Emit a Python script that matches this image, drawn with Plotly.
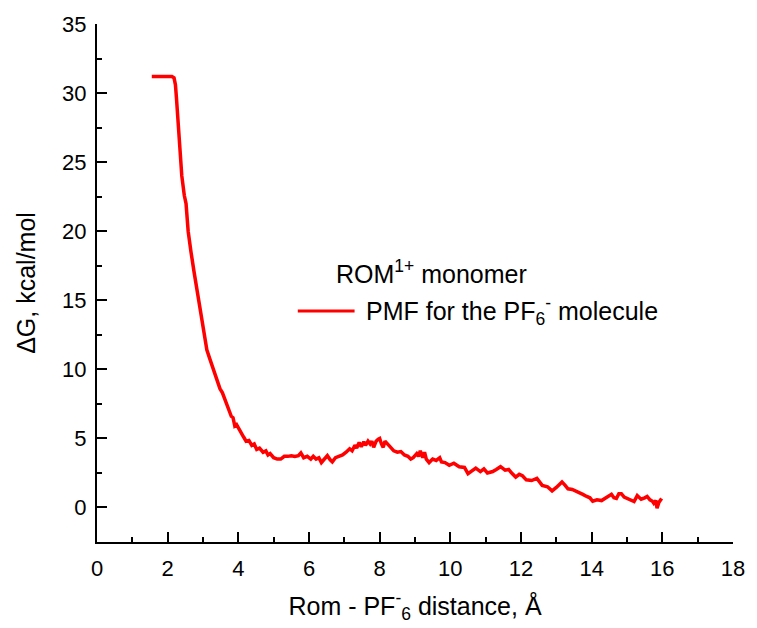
import plotly.graph_objects as go

distance = [1.55, 1.8, 2.0, 2.12, 2.18, 2.22, 2.25, 2.29, 2.33, 2.4, 2.47, 2.52, 2.58, 2.62, 2.66,
            2.75, 2.88, 2.95, 3.05, 3.11, 3.2, 3.3, 3.4, 3.48, 3.55, 3.65, 3.75, 3.8, 3.85, 3.9,
            3.95, 4.05, 4.15, 4.22, 4.3, 4.38, 4.45, 4.52, 4.6, 4.7, 4.78, 4.84, 4.9, 5.0, 5.1,
            5.2, 5.3, 5.4, 5.5, 5.6, 5.7, 5.77, 5.85, 5.95, 6.05, 6.12, 6.2, 6.28, 6.35, 6.4,
            6.47, 6.52, 6.6, 6.66, 6.75, 6.85, 6.95, 7.05, 7.15, 7.22, 7.3, 7.35, 7.42, 7.48,
            7.55, 7.6, 7.67, 7.73, 7.78, 7.83, 7.9, 7.96, 8.0, 8.05, 8.1, 8.15, 8.22, 8.3, 8.4,
            8.5, 8.6, 8.7, 8.8, 8.88, 8.95, 9.05, 9.1, 9.15, 9.22, 9.27, 9.32, 9.4, 9.5, 9.6,
            9.7, 9.75, 9.85, 9.97, 10.1, 10.25, 10.4, 10.5, 10.6, 10.72, 10.85, 10.95, 11.05,
            11.2, 11.3, 11.42, 11.55, 11.65, 11.75, 11.85, 11.95, 12.04, 12.15, 12.3, 12.45,
            12.6, 12.75, 12.88, 13.0, 13.16, 13.25, 13.33, 13.45, 13.6, 13.75, 13.86, 13.95,
            14.03, 14.15, 14.28, 14.42, 14.56, 14.63, 14.7, 14.77, 14.84, 14.92, 15.0, 15.1,
            15.2, 15.29, 15.4, 15.5, 15.57, 15.65, 15.72, 15.76, 15.82, 15.85, 15.9, 15.98]

pmf = [31.2, 31.2, 31.2, 31.2, 31.1, 30.6, 29.6, 28.0, 26.0, 24.0, 22.6, 22.0, 20.0, 19.0, 18.5,
       17.0, 15.0, 14.0, 12.4, 11.4, 10.7, 10.0, 9.2, 8.6, 8.3, 7.6, 7.0, 6.6, 6.5, 5.9,
       6.0, 5.5, 5.1, 4.8, 4.85, 4.5, 4.6, 4.2, 4.3, 4.0, 4.1, 3.8, 3.9, 3.6, 3.5,
       3.5, 3.7, 3.7, 3.75, 3.7, 3.75, 3.95, 3.6, 3.7, 3.5, 3.7, 3.5, 3.6, 3.25, 3.4,
       3.6, 3.75, 3.45, 3.3, 3.6, 3.7, 3.8, 4.0, 4.25, 4.1, 4.5, 4.3, 4.7, 4.4,
       4.75, 4.5, 4.8, 4.6, 4.8, 4.35, 4.8, 4.95, 5.0, 4.6, 4.35, 4.8, 4.6, 4.35, 4.1,
       4.0, 4.05, 3.8, 3.7, 3.5, 3.6, 3.9, 3.7, 4.1, 3.6, 4.0, 3.5, 3.25, 3.5, 3.4,
       3.6, 3.3, 3.25, 3.05, 3.2, 2.95, 2.9, 2.45, 2.6, 2.85, 2.6, 2.8, 2.5,
       2.6, 2.75, 2.95, 2.7, 2.75, 2.45, 2.2, 2.4, 2.3, 2.0, 1.95, 2.1,
       1.6, 1.5, 1.2, 1.45, 1.85, 1.6, 1.35, 1.3, 1.15, 0.95, 0.8, 0.7,
       0.45, 0.55, 0.5, 0.75, 0.95, 0.7, 0.65, 1.0, 1.0, 0.75, 0.65, 0.55,
       0.43, 0.86, 0.6, 0.7, 0.8, 0.55, 0.45, 0.3, 0.5, -0.05, 0.35, 0.65]

x_ticks = [0, 2, 4, 6, 8, 10, 12, 14, 16, 18]
y_ticks = [0, 5, 10, 15, 20, 25, 30, 35]

fig = go.Figure()
fig.add_trace(go.Scatter(x=distance, y=pmf, mode="lines",
                         line=dict(color="#FF0000", width=3.5),
                         name="PMF for the PF<sub>6</sub><sup>-</sup> molecule",
                         showlegend=False))

tickfont = dict(family="Liberation Sans, Arial", size=22, color="black")
titlefont = dict(family="Liberation Sans, Arial", size=25, color="black")

fig.update_layout(
    width=757, height=628,
    margin=dict(l=97, r=17, t=23, b=85),
    paper_bgcolor="white", plot_bgcolor="white",
    xaxis=dict(range=[0, 18], tickvals=x_ticks, ticks="inside", ticklen=10, tickwidth=1.5,
               tickcolor="black", showline=True, linecolor="black", linewidth=2,
               showgrid=False, zeroline=False, tickfont=tickfont, ticklabelstandoff=6,
               minor=dict(ticks="inside", ticklen=5, dtick=1, tickcolor="black", tickwidth=1.5),
               title=dict(text="Rom - PF<sup>-</sup><sub>6</sub> distance, Å", font=titlefont, standoff=17)),
    yaxis=dict(range=[-2.5, 35], tickvals=y_ticks, ticks="inside", ticklen=10, tickwidth=1.5,
               tickcolor="black", showline=True, linecolor="black", linewidth=2,
               showgrid=False, zeroline=False, tickfont=tickfont, ticklabelstandoff=4,
               minor=dict(ticks="inside", ticklen=5, dtick=2.5, tickcolor="black", tickwidth=1.5),
               title=dict(text="ΔG, kcal/mol", font=titlefont, standoff=19)),
)

# legend drawn manually to match the reference layout
fig.add_shape(type="line", xref="paper", yref="paper", x0=0.3157, x1=0.405, y0=0.446, y1=0.446,
              line=dict(color="#FF0000", width=3))
fig.add_annotation(xref="paper", yref="paper", x=0.42, y=0.446, xanchor="left", yanchor="middle",
                   showarrow=False, text="PMF for the PF<sub>6</sub><sup>-</sup> molecule",
                   font=dict(family="Liberation Sans, Arial", size=25, color="black"))
fig.add_annotation(xref="paper", yref="paper", x=0.372, y=0.521, xanchor="left", yanchor="middle",
                   showarrow=False, text="ROM<sup>1+</sup> monomer",
                   font=dict(family="Liberation Sans, Arial", size=25, color="black"))

fig.write_html("out.html")
